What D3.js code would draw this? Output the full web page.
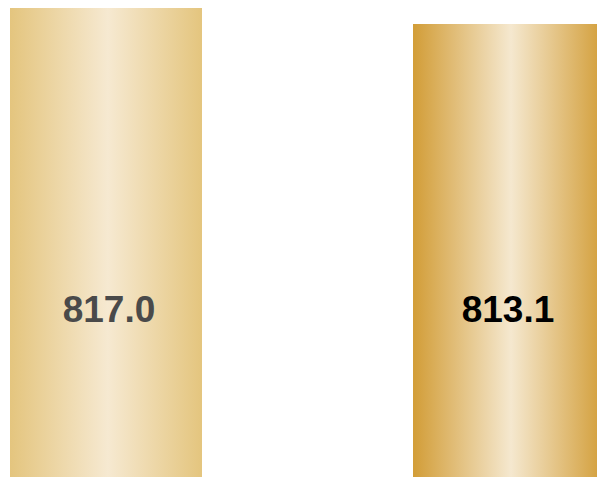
<!DOCTYPE html>
<html>
<head>
<meta charset="utf-8">
<script src="https://cdn.jsdelivr.net/npm/d3@7"></script>
<style>
  html, body { margin: 0; padding: 0; background: #fff; }
  svg { display: block; }
</style>
</head>
<body>
<svg id="chart" width="597" height="477"></svg>
<script>
const categories = ["A", "B"];
const values = [817.0, 813.1];
const labelColors = ["#4a4a4a", "#000000"];
const gradients = [
  { id: "goldLight", edge: "#e4c57e", mid: "#f6e9d1" },
  { id: "goldDeep", edge: "#d29d37", mid: "#f5e8cf" }
];

const width = 597, height = 477;
const svg = d3.select("#chart");

const defs = svg.append("defs");
gradients.forEach(g => {
  const lg = defs.append("linearGradient")
    .attr("id", g.id)
    .attr("x1", "0%").attr("x2", "100%")
    .attr("y1", "0%").attr("y2", "0%");
  lg.append("stop").attr("offset", "0%").attr("stop-color", g.edge);
  lg.append("stop").attr("offset", "51%").attr("stop-color", g.mid);
  lg.append("stop").attr("offset", "100%").attr("stop-color", g.edge);
});

// Band layout runs slightly past the right edge, so the second bar is cropped.
const x = d3.scaleBand()
  .domain(categories)
  .range([10, 605])
  .paddingInner(0.5236)
  .paddingOuter(0);

const y = d3.scaleLinear()
  .domain([702.7, 818.95])
  .range([height, 0]);

const visibleWidth = c => Math.min(x.bandwidth(), width - x(c));

const bars = svg.selectAll("g.bar")
  .data(categories.map((c, i) => ({ c, v: values[i], i })))
  .join("g")
  .attr("class", "bar");

bars.append("rect")
  .attr("x", d => x(d.c))
  .attr("y", d => y(d.v))
  .attr("width", x.bandwidth())
  .attr("height", d => height - y(d.v))
  .attr("fill", d => `url(#${gradients[d.i].id})`);

bars.append("text")
  .attr("x", d => x(d.c) + visibleWidth(d.c) / 2 + 3)
  .attr("y", 322)
  .attr("text-anchor", "middle")
  .attr("font-family", "Liberation Sans, Arial, sans-serif")
  .attr("font-weight", "bold")
  .attr("font-size", 37)
  .attr("fill", d => labelColors[d.i])
  .text(d => d.v.toFixed(1));
</script>
</body>
</html>
